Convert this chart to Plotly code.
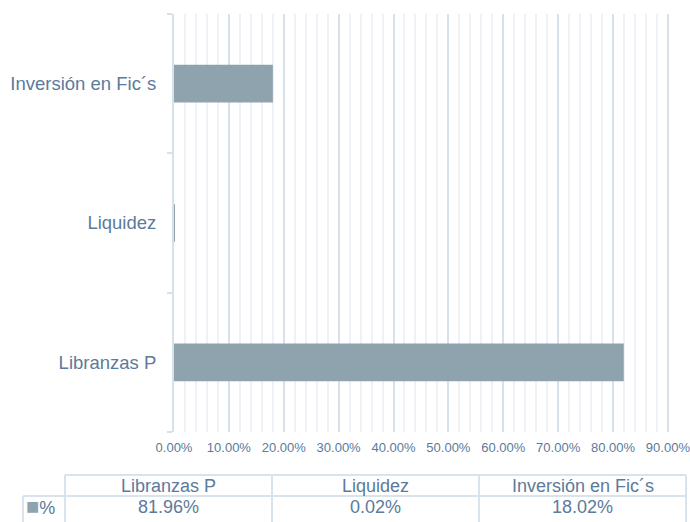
import plotly.graph_objects as go

categories = ["Libranzas P", "Liquidez", "Inversión en Fic´s"]
values = [0.8196, 0.0002, 0.1802]
value_labels = ["81.96%", "0.02%", "18.02%"]
series_name = "%"

TEXT = "#5b7b9b"
BAR = "#8fa3af"
MAJOR = "#d7e1ea"
MINOR = "#eef2f6"
TABLE_LINE = "#d9e3ec"
W, H = 690, 522
FONT = "Liberation Sans, Arial, sans-serif"

fig = go.Figure()
fig.add_trace(go.Bar(
    y=categories, x=values, orientation="h", width=0.27,
    marker=dict(color=BAR, line=dict(width=0)),
    showlegend=False, hoverinfo="x+y",
))

# ---- data table under the chart (Excel style), built from the lists ----
tbl_left, tbl_key_left, tbl_right = 65, 23, 686
hdr_top, row_top, row_bot = 475, 496, 523
ncol = len(categories)
colw = (tbl_right - tbl_left) / ncol
px = lambda v: v / W
py = lambda v: 1 - v / H

line = dict(color=TABLE_LINE, width=2)
fig.add_shape(type="line", xref="paper", yref="paper", x0=px(tbl_left), x1=px(tbl_right), y0=py(hdr_top), y1=py(hdr_top), line=line)
fig.add_shape(type="line", xref="paper", yref="paper", x0=px(tbl_key_left), x1=px(tbl_right), y0=py(row_top), y1=py(row_top), line=line)
fig.add_shape(type="line", xref="paper", yref="paper", x0=px(tbl_key_left), x1=px(tbl_key_left), y0=py(row_top), y1=py(row_bot), line=line)
for i in range(ncol + 1):
    xx = tbl_left + i * colw
    fig.add_shape(type="line", xref="paper", yref="paper", x0=px(xx), x1=px(xx), y0=py(hdr_top), y1=py(row_bot), line=line)

for i, (cat, lab) in enumerate(zip(categories, value_labels)):
    cx = px(tbl_left + (i + 0.5) * colw)
    fig.add_annotation(xref="paper", yref="paper", x=cx, y=py((hdr_top + row_top) / 2 + 0.5),
                       text=cat, showarrow=False, xanchor="center", yanchor="middle",
                       font=dict(family=FONT, size=18, color=TEXT))
    fig.add_annotation(xref="paper", yref="paper", x=cx, y=py(row_top + 10.5),
                       text=lab, showarrow=False, xanchor="center", yanchor="middle",
                       font=dict(family=FONT, size=18, color=TEXT))

# legend key of the data table row
fig.add_annotation(
    xref="paper", yref="paper", x=px(24), y=py(row_top + 10.5),
    xanchor="left", yanchor="middle", showarrow=False,
    text=f"<span style='color:{BAR};font-size:22px'>■</span>{series_name}",
    font=dict(family=FONT, size=18, color=TEXT),
)

fig.update_layout(
    width=W, height=H,
    margin=dict(l=0, r=0, t=0, b=0, autoexpand=False),
    paper_bgcolor="white", plot_bgcolor="white",
    font=dict(family=FONT, color=TEXT),
    xaxis=dict(
        domain=[174 / W, 669 / W], range=[0, 0.902], tick0=0, dtick=0.1,
        tickformat=".2%", showgrid=True, gridcolor=MAJOR, gridwidth=2,
        minor=dict(dtick=0.02, showgrid=True, gridcolor=MINOR, gridwidth=2),
        zeroline=False, showline=False, ticks="",
        tickfont=dict(size=13, color=TEXT), ticklabelstandoff=6,
        ticklabeloverflow="allow",
        fixedrange=True, automargin=False,
    ),
    yaxis=dict(
        domain=[1 - 432 / H, 1 - 14 / H], categoryorder="array", categoryarray=categories,
        showline=True, linecolor=MAJOR, linewidth=2,
        ticks="outside", ticklen=5, tickwidth=2, tickcolor=MAJOR, tickson="boundaries",
        showgrid=False, tickfont=dict(size=18.5, color=TEXT), ticklabelstandoff=12,
        fixedrange=True, automargin=False,
    ),
    bargap=0.73,
)

fig.write_html(
    "out.html",
    config={"displayModeBar": False},
    post_script="document.body.style.margin='0';document.body.style.overflow='hidden';",
)
